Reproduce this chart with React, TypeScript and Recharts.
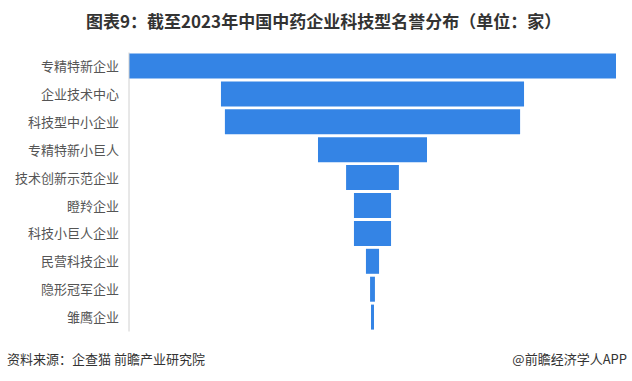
import { BarChart, Bar, XAxis, YAxis } from "recharts";

const categories = [
  "专精特新企业",
  "企业技术中心",
  "科技型中小企业",
  "专精特新小巨人",
  "技术创新示范企业",
  "瞪羚企业",
  "科技小巨人企业",
  "民营科技企业",
  "隐形冠军企业",
  "雏鹰企业",
];

const counts = [1300, 809, 788, 291, 141, 99, 99, 35, 13, 8];

const maxCount = Math.max(...counts);

// invisible "pad" bar shifts each bar so the whole thing sits centred like a funnel
const rows = categories.map((name, i) => ({
  name,
  pad: (maxCount - counts[i]) / 2,
  value: counts[i],
}));

const font = '"Noto Sans CJK SC", "Noto Sans", sans-serif';

export default function App() {
  return (
    <div
      style={{
        position: "absolute",
        left: 0,
        top: 0,
        width: 632,
        height: 381,
        background: "#fff",
        fontFamily: font,
        overflow: "hidden",
      }}
    >
      <div
        style={{
          position: "absolute",
          left: 86,
          top: 8,
          fontSize: 17,
          fontWeight: 700,
          color: "#333",
          whiteSpace: "nowrap",
        }}
      >
        图表9：截至2023年中国中药企业科技型名誉分布（单位：家）
      </div>
      <div style={{ position: "absolute", left: 0, top: 0 }}>
        <BarChart
          width={632}
          height={381}
          data={rows}
          layout="vertical"
          margin={{ top: 52.5, right: 16, bottom: 49.5, left: 0 }}
          barSize={25}
        >
          <XAxis type="number" domain={[0, maxCount]} hide />
          <YAxis
            type="category"
            dataKey="name"
            width={129}
            axisLine={{ stroke: "#d0d0d0" }}
            tickLine={false}
            tickSize={0}
            tickMargin={10}
            interval={0}
            tick={{ fontSize: 13, fill: "#555", fontFamily: font }}
          />
          <Bar dataKey="pad" stackId="a" fill="transparent" isAnimationActive={false} />
          <Bar dataKey="value" stackId="a" fill="#3484E5" isAnimationActive={false} />
        </BarChart>
      </div>
      <div
        style={{
          position: "absolute",
          left: 7,
          top: 349,
          fontSize: 13,
          color: "#333",
          whiteSpace: "nowrap",
        }}
      >
        资料来源：企查猫 前瞻产业研究院
      </div>
      <div
        style={{
          position: "absolute",
          right: 5,
          top: 349,
          fontSize: 13,
          color: "#333",
          whiteSpace: "nowrap",
        }}
      >
        @前瞻经济学人APP
      </div>
    </div>
  );
}
